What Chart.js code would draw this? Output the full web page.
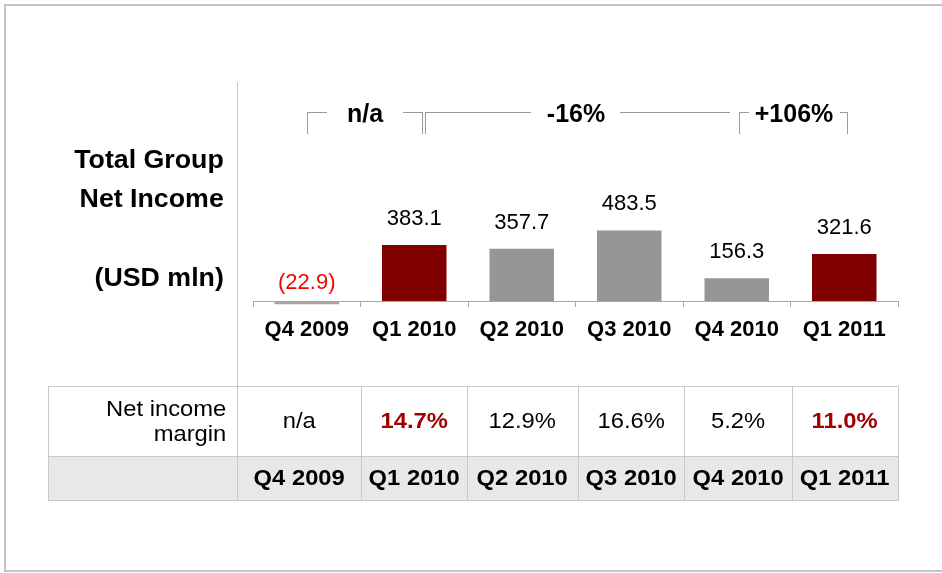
<!DOCTYPE html>
<html>
<head>
<meta charset="utf-8">
<script src="https://cdn.jsdelivr.net/npm/chart.js@4"></script>
<style>
  html, body { margin: 0; padding: 0; background: #fff; }
  body { width: 942px; height: 573px; position: relative; overflow: hidden; font-family: "Liberation Sans", Arial, sans-serif; }
  #frame { position: absolute; left: 4px; top: 4px; width: 960px; height: 564px; border: 2px solid #c4c4c4; }
  #chartBox { position: absolute; left: 0; top: 0; width: 942px; height: 573px; }
  .abs { position: absolute; white-space: nowrap; }
  .title { right: 718px; font-weight: bold; font-size: 25px; line-height: 30px; color: #000; text-align: right; transform: scaleX(1.07); transform-origin: right center; }
  .br { position: absolute; border: 0 solid #9a9a9a; }
  .brText { font-weight: bold; font-size: 25px; line-height: 30px; color: #000; transform: translateX(-50%); }
  .cell { position: absolute; box-sizing: border-box; display: flex; align-items: center; justify-content: center; font-size: 22px; color: #000; }
  .cell span { display: inline-block; transform: scaleX(1.08); }
  .cell.rightText span { transform-origin: right center; }
  .vline { position: absolute; width: 1px; background: #c8c8c8; }
  .hline { position: absolute; height: 1px; background: #c8c8c8; }
</style>
</head>
<body>
<div id="frame"></div>
<div id="chartBox"><canvas id="c" width="942" height="573"></canvas></div>
<div id="overlay"></div>
<script>
const quarters = ["Q4 2009", "Q1 2010", "Q2 2010", "Q3 2010", "Q4 2010", "Q1 2011"];
const netIncome = [-22.9, 383.1, 357.7, 483.5, 156.3, 321.6];
const highlight = [false, true, false, false, false, true];
const margins = ["n/a", "14.7%", "12.9%", "16.6%", "5.2%", "11.0%"];
const growthLabels = ["n/a", "-16%", "+106%"];

const FONT = '"Liberation Sans", Arial, sans-serif';

const valueLabels = {
  id: "valueLabels",
  afterDatasetsDraw(chart) {
    const ctx = chart.ctx;
    const meta = chart.getDatasetMeta(0);
    const zero = chart.scales.y.getPixelForValue(0);
    ctx.save();
    ctx.font = "22px " + FONT;
    ctx.textAlign = "center";
    ctx.textBaseline = "middle";
    meta.data.forEach((bar, i) => {
      const v = netIncome[i];
      if (v < 0) {
        ctx.fillStyle = "#ff0000";
        ctx.fillText("(" + Math.abs(v).toFixed(1) + ")", bar.x, zero - 18);
      } else {
        ctx.fillStyle = "#000";
        ctx.fillText(v.toFixed(1), bar.x, bar.y - 26);
      }
    });
    ctx.restore();
  },
};

new Chart(document.getElementById("c"), {
  type: "bar",
  data: {
    labels: quarters,
    datasets: [{
      data: netIncome,
      backgroundColor: highlight.map((h, i) => h ? "#800000" : (netIncome[i] < 0 ? "#a6a6a6" : "#969696")),
      borderWidth: 0,
      barPercentage: 0.6,
      categoryPercentage: 1,
      clip: false,
    }],
  },
  options: {
    responsive: false,
    animation: false,
    layout: { padding: { left: 253, right: 44, top: 228, bottom: 222 } },
    plugins: { legend: { display: false }, tooltip: { enabled: false } },
    scales: {
      x: {
        afterFit: (s) => { s.height = 50; },
        border: { display: true, color: "#a8a8a8", width: 1 },
        grid: { display: true, drawOnChartArea: false, drawTicks: true, tickLength: 6, color: "#a8a8a8", offset: true },
        ticks: { color: "#000", font: { family: FONT, size: 22, weight: "bold" }, padding: 10, maxRotation: 0 },
      },
      y: {
        display: false,
        min: 0,
        max: 500,
      },
    },
  },
  plugins: [valueLabels],
});

const ov = document.getElementById("overlay");
function add(cls, style, text) {
  const d = document.createElement("div");
  d.className = cls;
  Object.assign(d.style, style);
  if (text != null) d.textContent = text;
  ov.appendChild(d);
  return d;
}
function addCell(cls, style, text) {
  const d = add(cls, style);
  const s = document.createElement("span");
  s.innerHTML = text;
  d.appendChild(s);
  return d;
}

// left title
add("abs title", { top: "144px" }, "Total Group");
add("abs title", { top: "183px" }, "Net Income");
add("abs title", { top: "262px" }, "(USD mln)");

// separator between title and chart
add("vline", { left: "237px", top: "82px", height: "304px" });

// growth brackets
add("br", { left: "307px", top: "112px", width: "19px", height: "21px", borderTopWidth: "1px", borderLeftWidth: "1px" });
add("abs brText", { left: "365px", top: "98px" }, growthLabels[0]);
add("br", { left: "403px", top: "112px", width: "19px", height: "21px", borderTopWidth: "1px", borderRightWidth: "1px" });

add("br", { left: "425px", top: "112px", width: "105px", height: "21px", borderTopWidth: "1px", borderLeftWidth: "1px" });
add("abs brText", { left: "576px", top: "98px" }, growthLabels[1]);
add("br", { left: "620px", top: "112px", width: "110px", height: "0px", borderTopWidth: "1px" });

add("br", { left: "739px", top: "112px", width: "9px", height: "21px", borderTopWidth: "1px", borderLeftWidth: "1px" });
add("abs brText", { left: "794px", top: "98px" }, growthLabels[2]);
add("br", { left: "840px", top: "112px", width: "7px", height: "21px", borderTopWidth: "1px", borderRightWidth: "1px" });

// margin table
const colEdges = [48, 237, 361, 467, 578, 684, 792, 898];
const rowTop = 386, rowMid = 456, rowBot = 500;
add("abs", { left: colEdges[0] + "px", top: rowMid + "px", width: (colEdges[7] - colEdges[0]) + "px", height: (rowBot - rowMid) + "px", background: "#e8e8e8" });
[rowTop, rowMid, rowBot].forEach((y) => add("hline", { left: colEdges[0] + "px", top: y + "px", width: (colEdges[7] - colEdges[0] + 1) + "px" }));
colEdges.forEach((x) => add("vline", { left: x + "px", top: rowTop + "px", height: (rowBot - rowTop) + "px" }));

addCell("cell rightText", { left: "48px", top: rowTop + "px", width: "178px", height: (rowMid - rowTop) + "px", justifyContent: "flex-end", textAlign: "right", lineHeight: "25px" }, "Net income<br>margin");

quarters.forEach((q, i) => {
  const left = colEdges[i + 1], w = colEdges[i + 2] - colEdges[i + 1];
  addCell("cell", {
    left: left + "px", top: rowTop + "px", width: w + "px", height: (rowMid - rowTop) + "px",
    color: highlight[i] ? "#a00000" : "#000", fontWeight: highlight[i] ? "bold" : "normal",
  }, margins[i]);
  addCell("cell", { left: left + "px", top: rowMid + "px", width: w + "px", height: (rowBot - rowMid) + "px", fontWeight: "bold" }, q);
});
</script>
</body>
</html>
